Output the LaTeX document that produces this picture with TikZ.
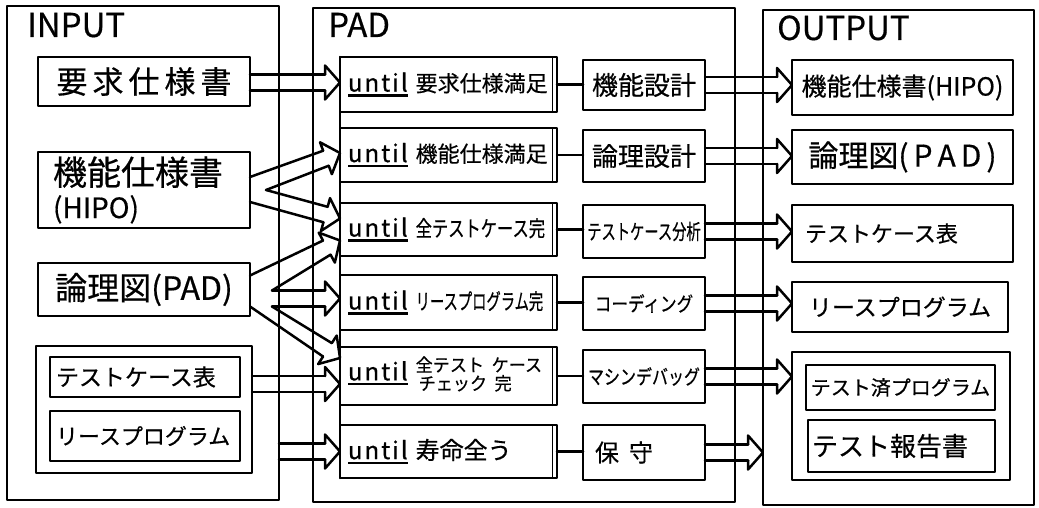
\documentclass[tikz,border=0pt]{standalone}
\usepackage{fontspec}
\setmainfont{Noto Sans CJK JP}[FakeBold=0.5]
\usepackage{graphicx}
\usetikzlibrary{calc}
\newcommand\fs[1]{\fontsize{#1}{#1}\selectfont\baselineskip=1.2\baselineskip\relax}
\newcommand\ul[1]{\setbox0\hbox{#1}\rlap{\rule[-5pt]{\wd0}{2.2pt}}\box0}
\newcommand\sx[2]{\scalebox{#1}[1]{#2}}
\newcommand\untl{\ul{u\kern2pt n\kern2pt t\kern2pt i\kern2pt l}}
\tikzset{
  ln/.style={line width=2.5pt, line join=round, line cap=round},
  box/.style={draw, ln, inner sep=0pt, outer sep=0pt, anchor=north west},
  ubox/.style={align=left, text width=201pt, inner xsep=8pt, font={\fs{24}}},
  lbl/.style={anchor=base west, inner sep=0pt, font={\fs{33}}},
}
\newcommand\bx[6]{\node[box, minimum width={(#4-#2)*1pt}, minimum height={(#5-#3)*1pt}, #6] (#1) at (#2,#3)}
\newcommand\hhead[3]{%
  \coordinate (#1b) at ($(#2)!15pt!(#3)$);
  \coordinate (#1u) at ($(#1b)!8pt!90:(#2)$);
  \coordinate (#1l) at ($(#1b)!8pt!-90:(#2)$);
  \coordinate (#1U) at ($(#1b)!17pt!90:(#2)$);
  \coordinate (#1L) at ($(#1b)!17pt!-90:(#2)$);
  \draw[ln] (#1u) -- (#1U) -- (#2) -- (#1L) -- (#1l);}
\newcommand\harr[3]{%
  \coordinate (#1P) at ($(#2)+(-40,0)$);
  \hhead{#1}{#2}{#1P}
  \draw[ln] (#1u -| #3) -- (#1u) (#1l -| #3) -- (#1l);}
\newcommand\varr[4]{%
  \coordinate (#1P) at ($(#3)!0.5!(#4)$);
  \hhead{#1}{#2}{#1P}
  \draw[ln] (#3) -- (#1u) (#4) -- (#1l);}
\begin{document}
\begin{tikzpicture}[x=1pt,y=-1pt]
\useasboundingbox (0,0) rectangle (1039,508);
\fill[white] (0,0) rectangle (1039,508);
% frames
\bx{inframe}{7}{6}{279}{500}{}{};
\bx{padframe}{313}{8}{735}{502}{}{};
\bx{outframe}{763}{10}{1034}{505}{}{};
\node[lbl] (inlbl) at (27,37) {INPUT};
\node[lbl] (padlbl) at (328,37) {PAD};
\node[lbl] (outlbl) at (777,40) {OUTPUT};
% input boxes
\bx{req}{38}{57}{250}{106}{font={\fs{31}}}{要\hspace{5pt}求\hspace{5pt}仕\hspace{5pt}様\hspace{5pt}書};
\bx{func}{38}{152}{250}{228}{font={\fs{30}}, align=left, text width=182pt, inner xsep=15pt}{{\fs{34}機能仕様書}\\[-3pt]{\fs{28}(HIPO)}};
\bx{logic}{38}{263}{250}{316}{font={\fs{32}}}{論理図(PAD)};
\bx{ingrp}{36}{346}{252}{473}{}{};
\bx{tc}{50}{357}{240}{397}{font={\fs{23}}, align=left, text width=178pt, inner xsep=6pt}{テストケース表};
\bx{src}{50}{411}{240}{461}{font={\fs{22}}, align=left, text width=178pt, inner xsep=6pt}{リースプログラム};
% PAD
\bx{u1}{340}{57}{557}{112}{ubox}{\untl\hspace{8pt}{\fs{22}要求仕様満足}};
\bx{u2}{340}{128}{557}{182}{ubox}{\untl\hspace{8pt}{\fs{22}機能仕様満足}};
\bx{u3}{340}{203}{557}{256}{ubox}{\untl\hspace{8pt}\sx{0.74}{\fs{22}全テストケース完}};
\bx{u4}{340}{275}{557}{330}{ubox}{\untl\hspace{8pt}\sx{0.65}{\fs{22}リースプログラム完}};
\bx{u5}{340}{347}{557}{405}{ubox}{\mbox{\untl\hspace{8pt}{\fs{18}\begin{tabular}{@{}l@{}}\sx{0.95}{全テスト ケース}\\[-2pt]\hspace*{3pt}\sx{0.95}{チェック 完}\end{tabular}}}};
\bx{u6}{340}{425}{557}{478}{ubox}{\untl\hspace{8pt}{\fs{24}寿命全う}};
\bx{p1}{583}{60}{705}{110}{font={\fs{26}}}{機能設計};
\bx{p2}{583}{130}{705}{182}{font={\fs{26}}}{論理設計};
\bx{p3}{583}{205}{705}{258}{}{\sx{0.68}{\fs{21}テストケース分析}};
\bx{p4}{583}{277}{705}{330}{}{\sx{0.83}{\fs{20}コーディング}};
\bx{p5}{583}{350}{705}{403}{}{\sx{0.8}{\fs{20}マシンデバッグ}};
\bx{p6}{583}{425}{705}{480}{font={\fs{24}}, align=left, text width=98pt, inner xsep=12pt}{保\hspace{10pt}守};
\draw[ln] (u1.north west) -- (u6.south west);
\foreach \i in {1,...,6}{
  \draw[ln] (u\i.east) -- (u\i.east -| p\i.west);
  \draw[line width=1.6pt] ($(u\i.north east)+(-4.5,0)$) -- ($(u\i.south east)+(-4.5,0)$);
}
% output
\bx{o1}{792}{60}{1013}{115}{font={\fs{25}}}{機能仕様書(HIPO)};
\bx{o2}{792}{130}{1013}{184}{font={\fs{30}}}{論理図(\,P\,A\,D\,)};
\bx{o3}{792}{205}{1013}{262}{font={\fs{22}}, align=left, text width=195pt, inner xsep=13pt}{テストケース表};
\bx{o4}{792}{282}{1008}{332}{font={\fs{23}}}{リースプログラム};
\bx{outgrp}{792}{352}{1010}{480}{}{};
\bx{tr}{806}{365}{995}{410}{font={\fs{20}}}{テスト済プログラム};
\bx{rep}{808}{420}{995}{472}{font={\fs{26}}, align=left, text width=179pt, inner xsep=4pt}{テスト報告書};
% input arrows
\coordinate (t1) at ($(u1.west)+(0,-2)$);
\coordinate (t2) at ($(u2.west)+(0,-2)$);
\coordinate (t3a) at ($(u3.west)+(0,-11)$);
\coordinate (t3b) at ($(u3.west)+(0,11)$);
\coordinate (t4) at ($(u4.west)+(0,-4)$);
\coordinate (t5a) at ($(u5.west)+(0,-18)$);
\coordinate (t5b) at ($(u5.west)+(0,8)$);
\coordinate (t6) at (u6.west);
\coordinate (fu) at ($(func.east)+(0,-13)$);
\coordinate (fl) at ($(func.east)+(0,12)$);
\coordinate (fv) at ($(func.east)+(16,0)$);
\coordinate (lu) at ($(logic.east)+(0,-14)$);
\coordinate (lv1) at ($(logic.east)+(22,1)$);
\coordinate (lv2) at ($(logic.east)+(22,17)$);
\coordinate (ll) at ($(logic.east)+(0,17)$);
\harr{a1}{t1}{req.east}
\varr{a2}{t2}{fu}{fv}
\varr{a3}{t3a}{fv}{fl}
\varr{a4}{t3b}{lu}{lv1}
\varr{a5}{t4}{lv1}{lv2}
\varr{a6}{t5a}{lv2}{ll}
\harr{a7}{t5b}{ingrp.east}
\harr{a8}{t6}{inframe.east}
% output arrows
\coordinate (to1) at (o1.west |- p1.east);
\coordinate (to2) at (o2.west |- p2.east);
\coordinate (to3) at (o3.west |- p3.east);
\coordinate (to4) at (o4.west |- p4.east);
\coordinate (to5) at (outgrp.west |- p5.east);
\coordinate (to6) at (outframe.west |- p6.east);
\harr{b1}{to1}{p1.east}
\harr{b2}{to2}{p2.east}
\harr{b3}{to3}{p3.east}
\harr{b4}{to4}{p4.east}
\harr{b5}{to5}{p5.east}
\harr{b6}{to6}{p6.east}
\end{tikzpicture}
\end{document}
